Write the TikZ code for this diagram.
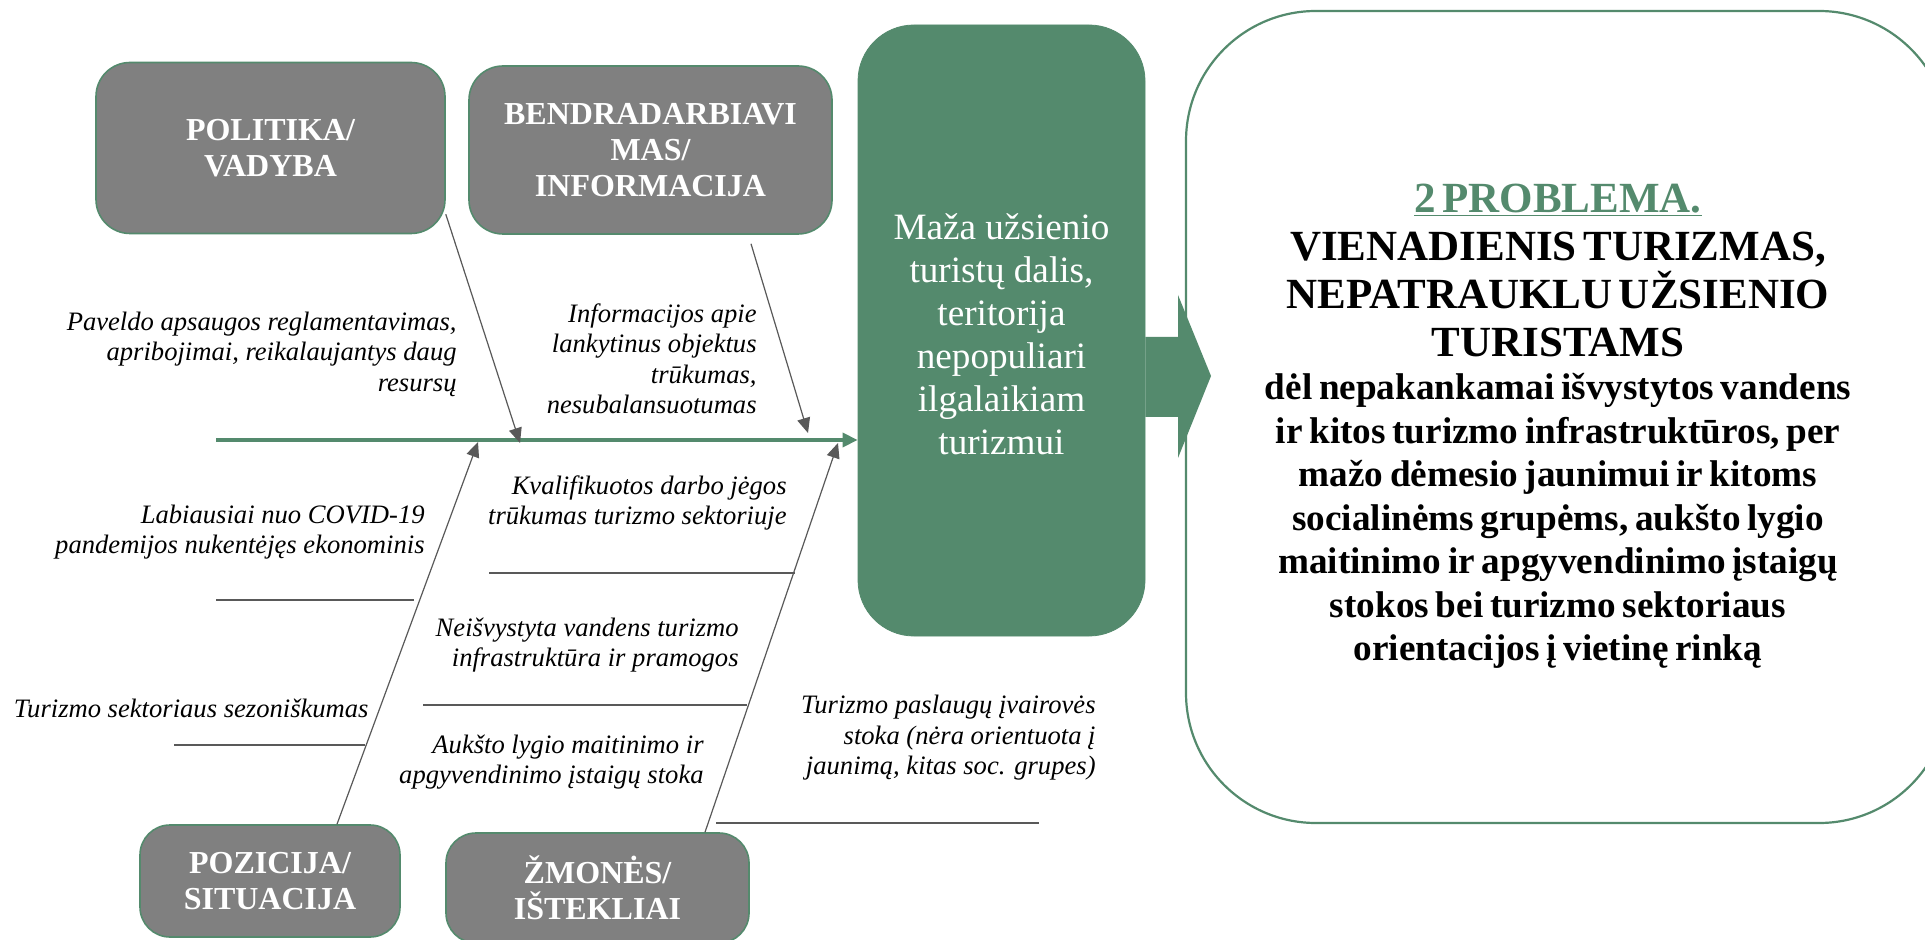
\documentclass[tikz,border=0pt]{standalone}
\usepackage{fontspec}
\setmainfont{Liberation Serif}
\usepackage{xcolor}
\usetikzlibrary{positioning, arrows.meta, calc}
\definecolor{fishgreen}{HTML}{548A6D}
\definecolor{boxgray}{HTML}{808080}
\definecolor{bonegray}{HTML}{595959}

\begin{document}
\begin{tikzpicture}[x=0.5pt, y=-0.5pt,
    cause/.style={rectangle, rounded corners=15pt, fill=boxgray, draw=fishgreen,
                  line width=0.8pt, text=white, align=center, inner sep=2pt,
                  font=\fontsize{16}{18}\selectfont\bfseries},
    effect/.style={rectangle, rounded corners=28pt, fill=fishgreen, draw=fishgreen,
                   text=white, align=center, minimum width=143.5pt, minimum height=305.5pt,
                   font=\fontsize{18.6}{21.5}\selectfont},
    problem/.style={rectangle, rounded corners=65pt, fill=white, draw=fishgreen,
                    line width=1.1pt, minimum width=381.5pt, minimum height=406pt},
    lbl/.style={font=\fontsize{13.3}{15.25}\selectfont\itshape, align=right,
                anchor=east, inner sep=0pt},
    bone/.style={line width=0.6pt, draw=bonegray,
                 -{Triangle[length=7.5pt, width=6.5pt]}},
    rib/.style={line width=0.6pt, draw=bonegray}
]
\useasboundingbox (0,0) rectangle (1925,940);
\clip (0,0) rectangle (1925,940);
\fill[white] (0,0) rectangle (1925,940);

% --- Cause boxes ---
\node[cause, minimum width=174.5pt, minimum height=85.5pt, rounded corners=17pt] (pol)
    at (270.5,148) {POLITIKA/\\VADYBA};
\node[cause, minimum width=181.5pt, minimum height=84pt, rounded corners=17pt] (ben)
    at (650.5,150) {BENDRADARBIAVI\\MAS/\\INFORMACIJA};
\node[cause, minimum width=130pt, minimum height=56pt] (poz)
    at (270,881) {POZICIJA/\\SITUACIJA};
\node[cause, minimum width=151.5pt, minimum height=55pt] (zmo)
    at (597.5,888) {ŽMONĖS/\\IŠTEKLIAI};

% --- Effect and problem ---
\node[effect] (mid) at (1001.5,330.5) {};
\node[text=white, align=center, inner sep=0pt,
      font=\fontsize{18.6}{21.5}\selectfont] (midtext) at (1001.5,334)
    {Maža užsienio\\turistų dalis,\\teritorija\\nepopuliari\\ilgalaikiam\\turizmui};
\node[problem] (res) at (1567.5,417) {};
\node[text width=380pt, align=center, inner sep=0pt] (restext) at (1558,426)
    {{\fontsize{21.5}{24}\selectfont\bfseries
      \textcolor{fishgreen}{\underline{2 PROBLEMA.}}\\
      VIENADIENIS TURIZMAS,\\ NEPATRAUKLU UŽSIENIO\\ TURISTAMS\par}
     {\fontsize{18.6}{21.75}\selectfont\bfseries
      dėl nepakankamai išvystytos vandens\\
      ir kitos turizmo infrastruktūros, per\\
      mažo dėmesio jaunimui ir kitoms\\
      socialinėms grupėms, aukšto lygio\\
      maitinimo ir apgyvendinimo įstaigų\\
      stokos bei turizmo sektoriaus\\
      orientacijos į vietinę rinką\par}};

% --- Block arrow between effect and problem ---
\fill[fishgreen] (mid.east |- 0,337) -- (1178,337) -- (1178,295) -- (1211,376)
    -- (1178,458) -- (1178,417) -- (mid.east |- 0,417) -- cycle;

% --- Spine ---
\coordinate (spine) at (216,440);
\draw[fishgreen, line width=1.75pt, -{Triangle[length=7.5pt, width=7pt]}]
    (spine) -- (spine -| mid.west);

% --- Bones ---
\coordinate (t1) at (520,443);
\coordinate (t2) at (808,433);
\coordinate (t3) at (478,442);
\coordinate (t4) at (838,443);
\draw[bone] ([yshift=10pt]pol.south east) -- (t1);
\draw[bone] ([xshift=50.25pt, yshift=-4.5pt]ben.south) -- (t2);
\draw[bone] ([xshift=33.5pt]poz.north) -- (t3);
\draw[bone] ([xshift=53.75pt]zmo.north) -- (t4);

% --- Ribs ---
\draw[rib] (216,600) -- (414,600);
\draw[rib] (174,745) -- (365,745);
\draw[rib] (489,573) -- (795,573);
\draw[rib] (423,705) -- (747,705);
\draw[rib] (716,823) -- (1039,823);

% --- Cause labels ---
\node[lbl] (l1) at (457,354)
    {Paveldo apsaugos reglamentavimas,\\apribojimai, reikalaujantys daug\\resursų};
\node[lbl] (l2) at (757,359)
    {Informacijos apie\\lankytinus objektus\\trūkumas,\\nesubalansuotumas};
\node[lbl] (l3) at (787,503)
    {Kvalifikuotos darbo jėgos\\trūkumas turizmo sektoriuje};
\node[lbl] (l4) at (425,532)
    {Labiausiai nuo COVID-19\\pandemijos nukentėjęs ekonominis};
\node[lbl] (l5) at (739,645)
    {Neišvystyta vandens turizmo\\infrastruktūra ir pramogos};
\node[lbl] (l6) at (369,708) {Turizmo sektoriaus sezoniškumas};
\node[lbl] (l7) at (704,762)
    {Aukšto lygio maitinimo ir\\apgyvendinimo įstaigų stoka};
\node[lbl] (l8) at (1096,738)
    {Turizmo paslaugų įvairovės\\stoka (nėra orientuota į\\jaunimą, kitas soc. grupes)};

\end{tikzpicture}
\end{document}
